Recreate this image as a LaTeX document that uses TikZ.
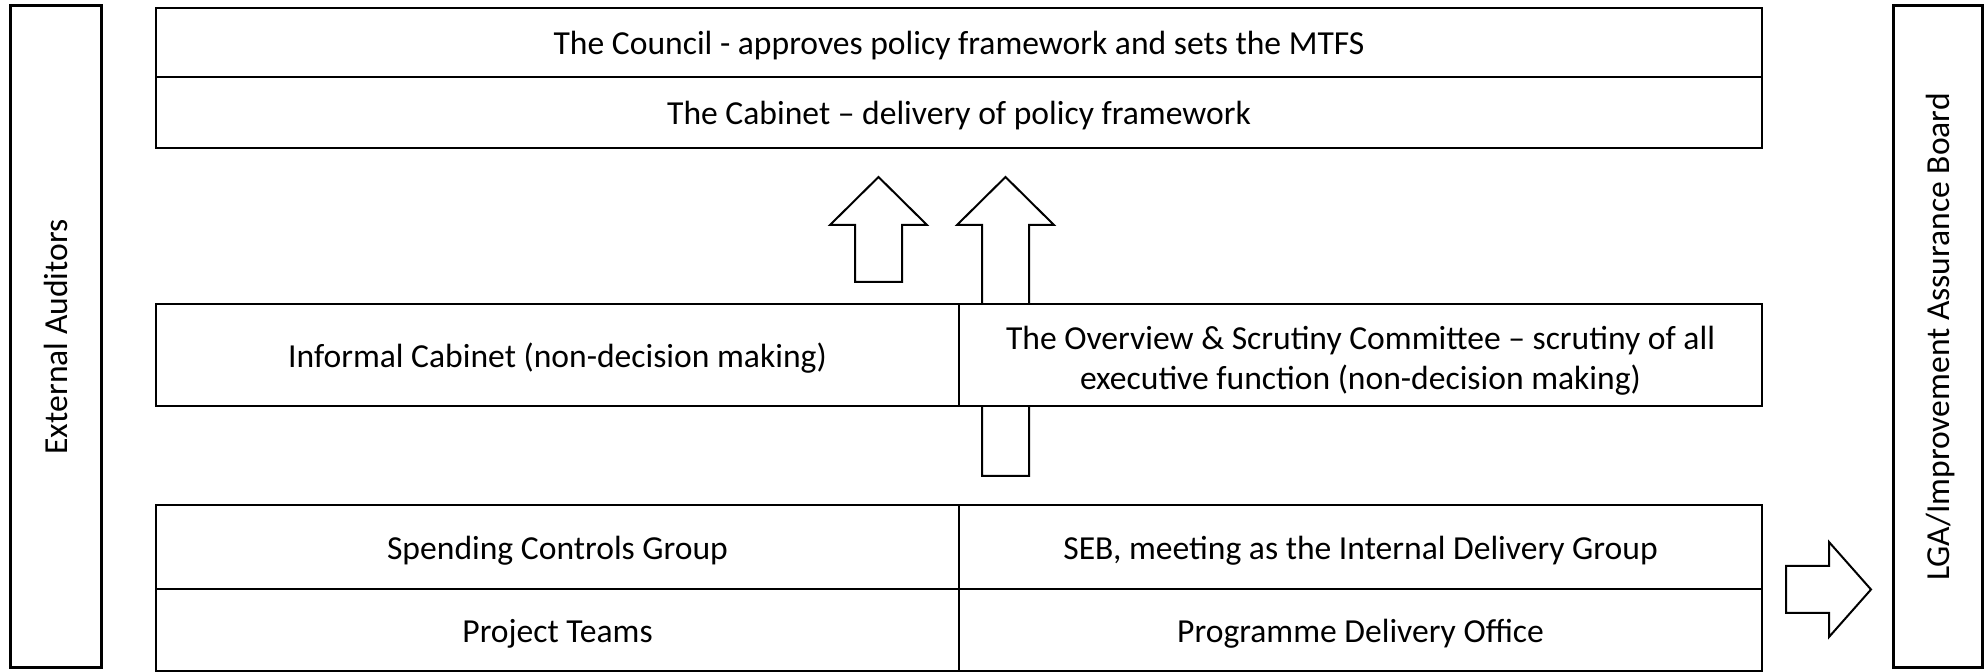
\documentclass[tikz,border=0pt]{standalone}
\usepackage{fontspec}
\setmainfont{Carlito}
\begin{document}
\begin{tikzpicture}[x=0.5pt,y=-0.5pt,
  every node/.style={font=\fontsize{16.8}{20}\selectfont},
  oneline/.style={text height=15.3pt, text depth=3pt},
  box/.style={draw=black, line width=1pt, fill=white, inner sep=0pt, rectangle},
  sidebox/.style={draw=black, line width=1.5pt, fill=white, inner sep=0pt, rectangle,
     minimum height=331pt},
  wide/.style={box, oneline, minimum width=803pt},
  half/.style={box, minimum width=401.5pt},
  blockarrow/.style={draw=black, line width=1pt, fill=white, line join=miter}]
\useasboundingbox (0,0) rectangle (1988,672);

% side boxes
\node[sidebox, minimum width=45.5pt] (ext) at (55.5,337) {};
\node[rotate=90, text height=14.5pt, text depth=3pt] (extlabel) at (ext.center) {External Auditors};
\node[sidebox, minimum width=44.5pt] (lga) at (1937.5,337) {};
\node[rotate=90, text height=14.5pt, text depth=3pt] (lgalabel) at (lga.center) {LGA/Improvement Assurance Board};

% top boxes
\node[wide, minimum height=34.5pt] (council) at (959,42.5) {The Council - approves policy framework and sets the MTFS};
\node[wide, minimum height=35.5pt] (cabinet) at (959,112.5) {The Cabinet -- delivery of policy framework};

% block arrows (drawn before middle boxes)
\draw[blockarrow] (855,282) -- (855,225) -- (830,225) -- (878.5,177) -- (927,225) -- (902,225) -- (902,282) -- cycle;
\draw[blockarrow] (982,476) -- (982,225) -- (957,225) -- (1005.5,177) -- (1054,225) -- (1029,225) -- (1029,476) -- cycle;

% middle boxes
\node[half, oneline, minimum height=51pt] (informal) at (557.5,355) {Informal Cabinet (non-decision making)};
\node[half, minimum height=51pt,
  label={[name=overviewtext, align=center, yshift=-3pt]center:The Overview \& Scrutiny Committee -- scrutiny of all\\executive function (non-decision making)}] (overview) at (1360.5,355) {};

% bottom boxes
\node[half, oneline, minimum height=42pt] (spending) at (557.5,547) {Spending Controls Group};
\node[half, oneline, minimum height=42pt] (seb) at (1360.5,547) {SEB, meeting as the Internal Delivery Group};
\node[half, oneline, minimum height=41pt] (project) at (557.5,630) {Project Teams};
\node[half, oneline, minimum height=41pt] (pdo) at (1360.5,630) {Programme Delivery Office};

% right block arrow
\draw[blockarrow] (1786,566) -- (1829,566) -- (1829,542) -- (1871,589.5) -- (1829,637) -- (1829,613) -- (1786,613) -- cycle;
\end{tikzpicture}
\end{document}
